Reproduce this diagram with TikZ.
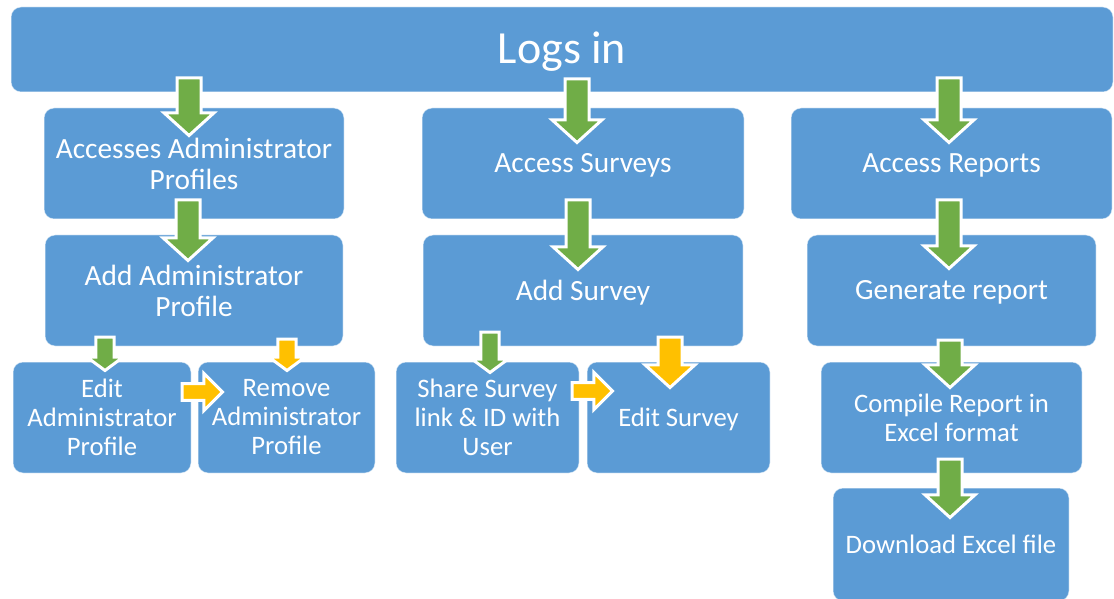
\documentclass[tikz,border=0pt]{standalone}
\usepackage{fontspec}
\setmainfont{Carlito}
\usetikzlibrary{calc}
\definecolor{boxblue}{HTML}{5B9BD5}
\definecolor{agreen}{HTML}{70AD47}
\definecolor{ayellow}{HTML}{FFC000}

\newcommand\bigsize{\def\arSh{9pt}\def\arHh{18.75pt}\def\arHl{17pt}}
\newcommand\smallsize{\def\arSh{6.9pt}\def\arHh{13.5pt}\def\arHl{10pt}}
\newcommand\sidesize{\def\arSh{6.3pt}\def\arHh{14pt}\def\arHl{14pt}}

% vertical block arrow: colour, source, target, dx(px), rise above source bottom (px), depth below target top (px)
\newcommand\varrow[6]{%
  \path[blockarrow, fill=#1] let \p1=(#2.south), \p2=(#3.north),
    \p3=({\x2+(#4)*0.75pt},{\y1+(#5)*0.75pt}),
    \p4=({\x2+(#4)*0.75pt},{\y2-(#6)*0.75pt}) in
    ({\x3-\arSh},\y3) -- ({\x3+\arSh},\y3) -- ({\x3+\arSh},{\y4+\arHl})
    -- ({\x3+\arHh},{\y4+\arHl}) -- (\x4,\y4) -- ({\x3-\arHh},{\y4+\arHl})
    -- ({\x3-\arSh},{\y4+\arHl}) -- cycle;}

% horizontal block arrow: colour, source, target, rise above centre (px), back from source right (px), into target (px)
\newcommand\harrow[6]{%
  \path[blockarrow, fill=#1] let \p1=(#2.east), \p2=(#3.west),
    \p3=({\x1-(#5)*0.75pt},{\y1+(#4)*0.75pt}),
    \p4=({\x2+(#6)*0.75pt},{\y1+(#4)*0.75pt}) in
    (\x3,{\y3+\arSh}) -- ({\x4-\arHl},{\y3+\arSh}) -- ({\x4-\arHl},{\y3+\arHh})
    -- (\x4,\y4) -- ({\x4-\arHl},{\y3-\arHh}) -- ({\x4-\arHl},{\y3-\arSh})
    -- (\x3,{\y3-\arSh}) -- cycle;}

\tikzset{
  box/.style={rectangle, rounded corners=7.5pt, fill=boxblue, draw=white,
    draw opacity=0.5, line width=0.75pt, text=white, align=center,
    inner sep=0pt, minimum height=83.25pt,
    font=\fontsize{22}{23.25}\selectfont},
  smallbox/.style={box, font=\fontsize{20}{21.75}\selectfont},
  oneline/.style={text depth=1pt},
  blockarrow/.style={draw=white, line width=2.25pt, line join=miter, miter limit=10}
}

\begin{document}
\begin{tikzpicture}[x=0.75pt, y=-0.75pt]
\useasboundingbox (0,0) rectangle (1114,599);

\node[box, minimum width=826.5pt, minimum height=63.75pt, text depth=2pt,
      font=\fontsize{34.5}{40}\selectfont] (logs) at (562,49.5) {Logs in};

\node[box, minimum width=225pt]    (acc)  at (194,163.5)   {Accesses Administrator\\Profiles};
\node[box, oneline, minimum width=241.5pt]  (surv) at (583,163.5)   {Access Surveys};
\node[box, oneline, minimum width=240.75pt] (rep)  at (951.5,163.5) {Access Reports};

\node[box, minimum width=223.5pt]  (addadm)  at (194,290.5)   {Add Administrator\\Profile};
\node[box, oneline, minimum width=240pt]    (addsurv) at (583,290.5)   {Add Survey};
\node[box, oneline, minimum width=216.75pt] (gen)     at (951.5,290.5) {Generate report};

\node[smallbox, minimum width=133.5pt]  (edit)     at (102,417.5)   {Edit\\Administrator\\Profile};
\node[smallbox, minimum width=132.75pt] (remove)   at (286.5,417.5) {Remove\\Administrator\\Profile};
\node[smallbox, minimum width=137.25pt] (share)    at (487.5,417.5) {Share Survey\\link \& ID with\\User};
\node[smallbox, oneline, minimum width=137.25pt] (editsurv) at (678.5,417.5) {Edit Survey};
\node[smallbox, minimum width=195.75pt] (comp)     at (951.5,417.5) {Compile Report in\\Excel format};
\node[smallbox, minimum width=177pt, minimum height=84.75pt] (down) at (951,544.5) {Download Excel file};

\bigsize
\varrow{agreen}{logs}{acc}{-5}{14.5}{28}
\varrow{agreen}{acc}{addadm}{-6}{19.5}{26}
\varrow{agreen}{logs}{surv}{-6}{13.5}{35}
\varrow{agreen}{surv}{addsurv}{-5}{19.5}{35}
\varrow{agreen}{logs}{rep}{-2.5}{14.5}{35}
\varrow{agreen}{rep}{gen}{-2.5}{19.5}{34}
\varrow{ayellow}{addsurv}{editsurv}{-8.5}{9.5}{26}
\varrow{agreen}{gen}{comp}{-1.5}{6.5}{26}
\varrow{agreen}{comp}{down}{-1}{14.5}{30}
\smallsize
\varrow{agreen}{addadm}{edit}{3}{9.5}{9}
\varrow{ayellow}{addadm}{remove}{0.5}{7.5}{9}
\varrow{agreen}{addsurv}{share}{2.5}{14.5}{11}
\sidesize
\harrow{ayellow}{edit}{remove}{25.5}{9.5}{25}
\harrow{ayellow}{share}{editsurv}{26.5}{7.5}{26}
\end{tikzpicture}
\end{document}
